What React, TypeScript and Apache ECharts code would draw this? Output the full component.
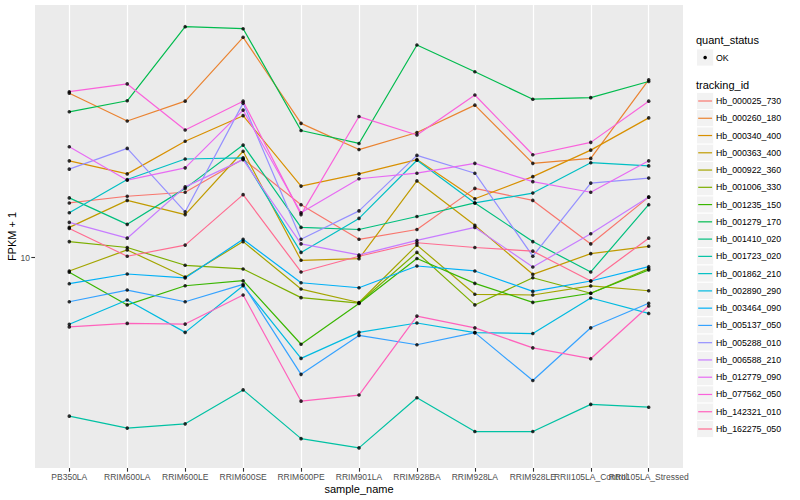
import React, { useEffect, useRef } from "react";
import * as echarts from "echarts";

// ---------- data ----------
const categories = [
  "PB350LA",
  "RRIM600LA",
  "RRIM600LE",
  "RRIM600SE",
  "RRIM600PE",
  "RRIM901LA",
  "RRIM928BA",
  "RRIM928LA",
  "RRIM928LE",
  "RRII105LA_Control",
  "RRII105LA_Stressed",
];

const trackingIds = [
  "Hb_000025_730",
  "Hb_000260_180",
  "Hb_000340_400",
  "Hb_000363_400",
  "Hb_000922_360",
  "Hb_001006_330",
  "Hb_001235_150",
  "Hb_001279_170",
  "Hb_001410_020",
  "Hb_001723_020",
  "Hb_001862_210",
  "Hb_002890_290",
  "Hb_003464_090",
  "Hb_005137_050",
  "Hb_005288_010",
  "Hb_006588_210",
  "Hb_012779_090",
  "Hb_077562_050",
  "Hb_142321_010",
  "Hb_162275_050",
];

// FPKM + 1 per sample, in category order
const Hb_000025_730 = [15.2, 16.0, 16.5, 21.3, 15.0, 11.5, 12.4, 17.0, 15.5, 11.1, 15.9];
const Hb_000260_180 = [35.3, 28.5, 33.2, 54.2, 28.0, 22.9, 26.1, 32.2, 20.6, 21.4, 39.1];
const Hb_000340_400 = [21.0, 19.0, 24.4, 29.7, 17.3, 19.0, 21.2, 15.7, 18.6, 22.8, 29.2];
const Hb_000363_400 = [12.6, 15.5, 13.9, 22.6, 9.79, 9.91, 18.0, 12.8, 8.79, 10.3, 10.9];
const Hb_000922_360 = [9.02, 10.6, 8.61, 11.3, 7.85, 7.08, 11.0, 7.54, 7.5, 8.04, 7.75];
const Hb_001006_330 = [11.3, 10.8, 9.42, 9.16, 7.35, 7.05, 10.4, 6.95, 8.56, 7.6, 9.18];
const Hb_001235_150 = [8.93, 6.95, 8.05, 8.37, 5.14, 7.03, 9.92, 8.2, 7.09, 7.6, 9.09];
const Hb_001279_170 = [30.6, 33.3, 58.8, 57.9, 26.5, 24.0, 51.1, 41.6, 33.7, 34.1, 38.6];
const Hb_001410_020 = [15.8, 12.9, 17.0, 23.7, 12.6, 12.4, 13.7, 15.2, 11.3, 8.95, 15.0];
const Hb_001723_020 = [2.96, 2.7, 2.79, 3.62, 2.49, 2.32, 3.41, 2.63, 2.63, 3.24, 3.17];
const Hb_001862_210 = [14.1, 18.2, 21.3, 21.5, 10.4, 13.5, 21.1, 15.2, 16.4, 20.7, 20.2];
const Hb_002890_290 = [5.99, 7.22, 5.63, 8.05, 4.61, 5.63, 6.05, 5.62, 5.58, 7.33, 6.51];
const Hb_003464_090 = [8.18, 8.81, 8.55, 11.5, 8.24, 7.93, 9.37, 9.02, 7.71, 8.35, 9.32];
const Hb_005137_050 = [7.12, 7.79, 7.12, 8.14, 4.08, 5.5, 5.12, 5.62, 3.89, 5.83, 7.04];
const Hb_005288_010 = [19.7, 23.1, 14.2, 32.7, 11.5, 14.3, 21.9, 19.1, 10.1, 17.7, 18.4];
const Hb_006588_210 = [13.1, 11.6, 17.2, 21.2, 11.1, 10.2, 11.4, 12.6, 9.3, 12.0, 15.9];
const Hb_012779_090 = [23.4, 18.1, 19.9, 31.0, 14.1, 18.3, 19.1, 20.6, 17.9, 16.5, 21.0];
const Hb_077562_050 = [35.7, 37.9, 26.6, 33.2, 13.9, 29.5, 25.6, 34.8, 22.0, 24.2, 33.2];
const Hb_142321_010 = [5.87, 6.03, 6.0, 7.5, 3.32, 3.48, 6.38, 5.83, 5.0, 4.6, 6.89];
const Hb_162275_050 = [12.5, 10.1, 11.0, 16.2, 8.95, 10.1, 11.2, 10.8, 10.5, 8.35, 11.6];

const seriesValues = [
  Hb_000025_730,
  Hb_000260_180,
  Hb_000340_400,
  Hb_000363_400,
  Hb_000922_360,
  Hb_001006_330,
  Hb_001235_150,
  Hb_001279_170,
  Hb_001410_020,
  Hb_001723_020,
  Hb_001862_210,
  Hb_002890_290,
  Hb_003464_090,
  Hb_005137_050,
  Hb_005288_010,
  Hb_006588_210,
  Hb_012779_090,
  Hb_077562_050,
  Hb_142321_010,
  Hb_162275_050,
];

const yTickValues = [10];
const yAxisMin = 1.988;
const yAxisMax = 69.45;
const statusLevels = ["OK"];

// ---------- style ----------
const seriesColors = [
  "#F8766D", "#EA8331", "#D89000", "#C09B00", "#A3A500",
  "#7CAE00", "#39B600", "#00BB4E", "#00BF7D", "#00C1A3",
  "#00BFC4", "#00BAE0", "#00B0F6", "#35A2FF", "#9590FF",
  "#C77CFF", "#E76BF3", "#FA62DB", "#FF62BC", "#FF6C91",
];

const FONT = '"Liberation Sans", Arial, Helvetica, sans-serif';

export default function App() {
  const ref = useRef<HTMLDivElement>(null);

  useEffect(() => {
    document.body.style.margin = "0";
    if (!ref.current) return;
    const chart = echarts.init(ref.current, null, { renderer: "svg" });

    const lineSeries = seriesValues.map((vals, i) => ({
      name: trackingIds[i],
      type: "line",
      xAxisIndex: 1,
      yAxisIndex: 1,
      data: vals,
      symbol: "none",
      showSymbol: false,
      clip: false,
      silent: true,
      z: 2,
      lineStyle: { color: seriesColors[i], width: 1.2 },
      itemStyle: { color: seriesColors[i] },
      emphasis: { disabled: true },
    }));

    const pointSeries = seriesValues.map((vals, i) => ({
      name: trackingIds[i] + "_pts",
      type: "scatter",
      xAxisIndex: 1,
      yAxisIndex: 1,
      data: vals.map((v, j) => [j, v]),
      symbol: "circle",
      symbolSize: 3.6,
      clip: false,
      silent: true,
      z: 3,
      itemStyle: { color: "#000000" },
      emphasis: { disabled: true },
    }));

    // legend built as graphics (ggplot style)
    const keySize = 17.28;
    const keyX = 696.5;
    const graphics: any[] = [];
    graphics.push({
      type: "text",
      x: 696,
      y: 40,
      z: 10,
      style: {
        text: "quant_status",
        fontSize: 11,
        fontFamily: FONT,
        fill: "#000",
        align: "left",
        verticalAlign: "middle",
      },
    });
    statusLevels.forEach((lvl, i) => {
      const cy = 57.5 + i * keySize;
      graphics.push({
        type: "rect",
        z: 10,
        shape: { x: keyX, y: cy - keySize / 2, width: keySize, height: keySize },
        style: { fill: "#F2F2F2", stroke: "#FFFFFF", lineWidth: 1 },
      });
      graphics.push({
        type: "circle",
        z: 11,
        shape: { cx: keyX + keySize / 2, cy, r: 1.8 },
        style: { fill: "#000" },
      });
      graphics.push({
        type: "text",
        x: 716,
        y: cy,
        z: 11,
        style: {
          text: lvl,
          fontSize: 8.8,
          fontFamily: FONT,
          fill: "#000",
          align: "left",
          verticalAlign: "middle",
        },
      });
    });
    graphics.push({
      type: "text",
      x: 696,
      y: 85,
      z: 10,
      style: {
        text: "tracking_id",
        fontSize: 11,
        fontFamily: FONT,
        fill: "#000",
        align: "left",
        verticalAlign: "middle",
      },
    });
    const rowPitch = 17.263;
    trackingIds.forEach((id, i) => {
      const cy = 101 + i * rowPitch;
      graphics.push({
        type: "rect",
        z: 10,
        shape: { x: keyX, y: cy - keySize / 2, width: keySize, height: keySize },
        style: { fill: "#F2F2F2", stroke: "#FFFFFF", lineWidth: 1 },
      });
      graphics.push({
        type: "line",
        z: 11,
        shape: { x1: keyX + 1.7, y1: cy, x2: keyX + keySize - 1.7, y2: cy },
        style: { stroke: seriesColors[i], lineWidth: 1.2 },
      });
      graphics.push({
        type: "text",
        x: 716,
        y: cy,
        z: 11,
        style: {
          text: id,
          fontSize: 8.8,
          fontFamily: FONT,
          fill: "#000",
          align: "left",
          verticalAlign: "middle",
        },
      });
    });
    // axis titles
    graphics.push({
      type: "text",
      x: 359,
      y: 489,
      z: 10,
      style: {
        text: "sample_name",
        fontSize: 11,
        fontFamily: FONT,
        fill: "#000",
        align: "center",
        verticalAlign: "middle",
      },
    });
    graphics.push({
      type: "text",
      x: 12,
      y: 236.5,
      rotation: Math.PI / 2,
      z: 10,
      style: {
        text: "FPKM + 1",
        fontSize: 11,
        fontFamily: FONT,
        fill: "#000",
        align: "center",
        verticalAlign: "middle",
      },
    });

    const option: any = {
      animation: false,
      backgroundColor: "#FFFFFF",
      textStyle: { fontFamily: FONT },
      grid: [
        {
          left: 35,
          top: 5,
          width: 648,
          height: 463,
          show: true,
          backgroundColor: "#EBEBEB",
          borderWidth: 0,
          containLabel: false,
        },
        {
          left: 69.3,
          top: 5,
          width: 579.4,
          height: 463,
          show: false,
          containLabel: false,
        },
      ],
      xAxis: [
        { gridIndex: 0, type: "value", min: 0, max: 1, show: false },
        {
          gridIndex: 1,
          type: "category",
          data: categories,
          boundaryGap: false,
          axisLine: { show: false },
          axisTick: {
            show: true,
            length: 3.7,
            lineStyle: { color: "#333333", width: 1.1 },
          },
          axisLabel: {
            interval: 0,
            margin: 4.5,
            color: "#4D4D4D",
            fontSize: 8.5,
            fontFamily: FONT,
            hideOverlap: false,
          },
          splitLine: { show: true, lineStyle: { color: "#FFFFFF", width: 1.2 } },
        },
      ],
      yAxis: [
        {
          gridIndex: 0,
          type: "log",
          logBase: 10,
          min: yAxisMin,
          max: yAxisMax,
          axisLine: { show: false },
          axisTick: {
            show: true,
            length: 3.7,
            customValues: yTickValues,
            lineStyle: { color: "#333333", width: 1.1 },
          },
          axisLabel: {
            customValues: yTickValues,
            showMinLabel: false,
            showMaxLabel: false,
            color: "#4D4D4D",
            fontSize: 8.5,
            margin: 5,
            fontFamily: FONT,
          },
          splitLine: {
            show: true,
            showMinLine: false,
            showMaxLine: false,
            lineStyle: { color: "#FFFFFF", width: 1.2 },
          },
        },
        {
          gridIndex: 1,
          type: "log",
          logBase: 10,
          min: yAxisMin,
          max: yAxisMax,
          show: false,
          splitLine: { show: false },
        },
      ],
      series: [...lineSeries, ...pointSeries],
      graphic: graphics,
    };

    chart.setOption(option);
    return () => {
      chart.dispose();
    };
  }, []);

  return (
    <div
      ref={ref}
      style={{ position: "fixed", left: 0, top: 0, width: 800, height: 500 }}
    />
  );
}
